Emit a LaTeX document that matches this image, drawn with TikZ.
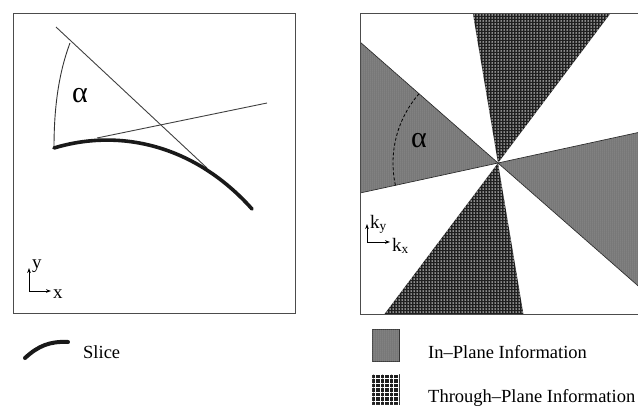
\documentclass[tikz,border=0pt]{standalone}
\usepackage{fontspec}
\setmainfont{Liberation Serif}
\usetikzlibrary{patterns.meta,arrows.meta}
\tikzset{
  frame/.style={draw=black!70, line width=1pt},
  thinline/.style={draw=black!75, line width=0.9pt},
  slice/.style={draw=black!90, line width=3.6pt, line cap=round},
  inplane/.style={fill=black!55, postaction={pattern={Dots[distance=2pt,radius=0.5pt]}, pattern color=black!30}},
  through/.style={fill=black!88, postaction={pattern={Dots[distance=3pt,radius=0.75pt]}, pattern color=white}},
  throughleg/.style={fill=black!88, postaction={pattern={Hatch[angle=0,distance=4.5pt,line width=1.4pt,xshift=2.25pt,yshift=2.25pt]}, pattern color=white}},
  axis/.style={draw=black, line width=0.8pt, -{Stealth[length=5pt,width=3.6pt]}},
  legtext/.style={anchor=base west, inner sep=0pt, font=\fontsize{18.5}{20}\selectfont},
  axlabel/.style={anchor=base west, inner sep=0pt, font=\fontsize{19}{21}\selectfont},
  alphalabel/.style={inner sep=0pt, font=\fontsize{30}{32}\selectfont}
}
\begin{document}
\begin{tikzpicture}[x=1pt,y=-1pt]
\useasboundingbox (0,0) rectangle (638,408);
% ---------------- left panel ----------------
\draw[frame] (13,13) rectangle (295,313);
\coordinate (l1a) at (56,27);
\coordinate (l1b) at (207,168);
\coordinate (l2a) at (97,138);
\coordinate (l2b) at (267,103);
\coordinate (s0) at (54,148);
\coordinate (s1) at (252,209);
\coordinate (arcTop) at (70,43);
\draw[thinline] (l1a) -- (l1b);
\draw[thinline] (l2a) -- (l2b);
\draw[draw=black!80, line width=0.9pt] (arcTop) .. controls (58,75) and (54,110) .. (s0);
\draw[slice] (s0) .. controls (120,128) and (195,145) .. (s1);
\node[alphalabel] (alphaL) at (80,96) {α};
% axes x/y
\coordinate (o1) at (29,291);
\coordinate (o1y) at (29,268);
\coordinate (o1x) at (51,291);
\draw[axis] (o1) -- (o1y);
\draw[axis] (o1) -- (o1x);
\node[axlabel] (ylab) at (32,268) {y};
\node[axlabel] (xlab) at (53,298) {x};
% ---------------- right panel ----------------
\coordinate (C) at (498,163);
\begin{scope}
  \clip (360,13) rectangle (650,314);
  \fill[white] (360,13) rectangle (650,314);
  \path[inplane, draw=black!85, line width=0.7pt] (C) -- (84,-200) -- (84,253) -- cycle;
  \path[inplane, draw=black!85, line width=0.7pt] (C) -- (912,526) -- (912,73) -- cycle;
  \path[through] (C) -- (448,-135) -- (722,-135) -- cycle;
  \path[through] (C) -- (548,461) -- (274,461) -- cycle;
  \draw[black, line width=0.8pt, densely dashed] (C) ++(-79,-69.2) arc[start angle=-138.8, end angle=-192.3, radius=105];
\end{scope}
\draw[frame] (360,13) rectangle (650,314);
\node[alphalabel] (alphaR) at (419,141) {α};
% axes kx/ky
\coordinate (o2) at (367,242);
\coordinate (o2y) at (367,224);
\coordinate (o2x) at (390,242);
\draw[axis] (o2) -- (o2y);
\draw[axis] (o2) -- (o2x);
\node[axlabel] (kylab) at (370,228) {k\textsubscript{y}};
\node[axlabel] (kxlab) at (392,251) {k\textsubscript{x}};
% ---------------- legend ----------------
\coordinate (sl0) at (25,358);
\coordinate (sl1) at (68,342);
\draw[slice, line width=4pt] (sl0) .. controls (38,346) and (50,341) .. (sl1);
\node[legtext] (slicetxt) at (83,358) {Slice};
\path[inplane, draw=black!80, line width=0.8pt] (372,329) rectangle (399,361);
\node[legtext] (intxt) at (428,358) {In–Plane Information};
\path[throughleg, draw=black!80, line width=0.8pt] (372,374) rectangle (399,404);
\node[legtext] (thtxt) at (428,402) {Through–Plane Information};
\end{tikzpicture}
\end{document}
